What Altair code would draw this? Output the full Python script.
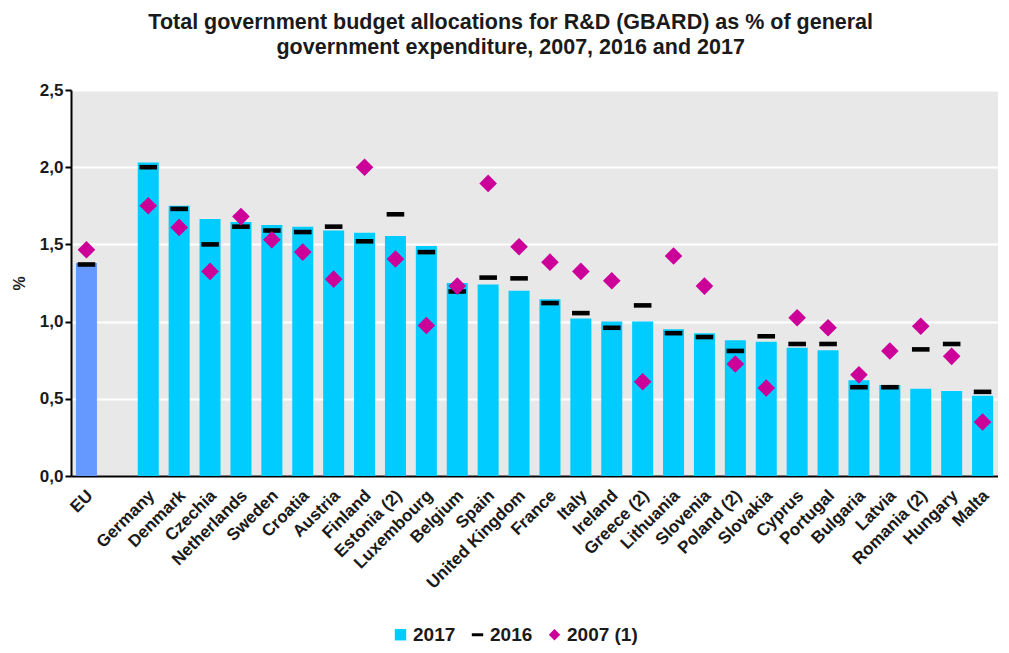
import altair as alt
import pandas as pd

countries = ["EU", " ", "Germany", "Denmark", "Czechia", "Netherlands", "Sweden", "Croatia",
             "Austria", "Finland", "Estonia (2)", "Luxembourg", "Belgium", "Spain",
             "United Kingdom", "France", "Italy", "Ireland", "Greece (2)", "Lithuania",
             "Slovenia", "Poland (2)", "Slovakia", "Cyprus", "Portugal", "Bulgaria",
             "Latvia", "Romania (2)", "Hungary", "Malta"]
v2017 = [1.38, None, 2.03, 1.75, 1.665, 1.645, 1.625, 1.615, 1.59, 1.575, 1.555, 1.49,
         1.25, 1.24, 1.20, 1.145, 1.02, 1.0, 1.0, 0.95, 0.925, 0.88, 0.87, 0.83, 0.815,
         0.62, 0.59, 0.565, 0.55, 0.52]
v2016 = [1.37, None, 2.0, 1.73, 1.50, 1.615, 1.59, 1.58, 1.615, 1.52, 1.695, 1.45,
         1.195, 1.285, 1.28, 1.12, 1.055, 0.96, 1.105, 0.925, 0.90, 0.81, 0.905, 0.855,
         0.855, 0.575, 0.575, 0.82, 0.855, 0.545]
v2007 = [1.465, None, 1.75, 1.61, 1.325, 1.68, 1.53, 1.45, 1.275, 2.0, 1.405, 0.975,
         1.23, 1.895, 1.485, 1.385, 1.325, 1.265, 0.61, 1.425, 1.23, 0.725, 0.57, 1.025,
         0.96, 0.655, 0.81, 0.97, 0.775, 0.35]
series = ["2017", "2016", "2007 (1)"]
series_colors = ["#00CCFF", "#000000", "#CC0099"]
series_shapes = ["square", "M-1,-0.26H1V0.26H-1Z", "diamond"]
eu_color = "#6699FF"
y_ticks = [0, 0.5, 1.0, 1.5, 2.0, 2.5]

FONT = "Liberation Sans"
TXT = "#1a1a1a"

bars = pd.DataFrame({"country": countries, "value": v2017, "series": "2017"}).dropna()
eu_bar = bars[bars["country"] == "EU"]
country_bars = bars[bars["country"] != "EU"]
pts = pd.concat([
    pd.DataFrame({"country": countries, "value": v2016, "series": "2016"}),
    pd.DataFrame({"country": countries, "value": v2007, "series": "2007 (1)"}),
]).dropna()

x_enc = alt.X("country:N",
              scale=alt.Scale(domain=countries, paddingInner=0.32, paddingOuter=0.16),
              axis=alt.Axis(title=None, labelAngle=-45, labelFontSize=17, labelFont=FONT,
                            labelFontWeight="bold", labelColor=TXT, ticks=False,
                            domainColor="#000000", domainWidth=2, labelPadding=11,
                            labelOffset=-2))
y_scale = alt.Scale(domain=[0, 2.5], nice=False)
y_enc = alt.Y("value:Q", scale=y_scale,
              axis=alt.Axis(title="%", values=y_ticks,
                            labelExpr="replace(format(datum.value, '.1f'), '.', ',')",
                            labelFontSize=17, labelFont=FONT, labelFontWeight="bold",
                            labelColor=TXT, titleFont=FONT, titleFontSize=16,
                            titleFontWeight="bold", titleColor=TXT, titlePadding=12,
                            domainColor="#000000", domainWidth=2, tickColor="#000000",
                            tickWidth=2, tickSize=6, gridColor="#FFFFFF", gridWidth=2))

leg = alt.Legend(title=None, orient="none", legendX=320, legendY=535,
                 direction="horizontal", labelFont=FONT, labelFontWeight="bold",
                 labelFontSize=19, labelColor=TXT, symbolSize=130,
                 symbolStrokeWidth=0, columnPadding=12, labelOffset=3)

eu_layer = alt.Chart(eu_bar).mark_bar(color=eu_color).encode(x=x_enc, y=y_enc)
bar_layer = alt.Chart(country_bars).mark_bar().encode(
    x=x_enc, y=y_enc,
    color=alt.Color("series:N", scale=alt.Scale(domain=series, range=series_colors), legend=leg))
pt_layer = alt.Chart(pts).mark_point(filled=True, opacity=1, size=310).encode(
    x=x_enc, y=y_enc,
    color=alt.Color("series:N", scale=alt.Scale(domain=series, range=series_colors), legend=leg),
    shape=alt.Shape("series:N", scale=alt.Scale(domain=series, range=series_shapes), legend=leg))

chart = alt.layer(eu_layer, bar_layer, pt_layer).properties(
    width=927, height=386,
    padding={"left": 3, "right": 0, "top": 3, "bottom": 0},
    title=alt.TitleParams(
        text=["Total government budget allocations for R&D (GBARD) as % of general",
              "government expenditure, 2007, 2016 and 2017"],
        font=FONT, fontSize=21.5, fontWeight="bold", color=TXT, anchor="middle",
        frame="bounds", lineHeight=25, offset=23, dx=6),
).configure_view(fill="#E8E8E8", strokeWidth=0)

chart.save("out.html", embed_options={"renderer": "svg", "actions": False})
